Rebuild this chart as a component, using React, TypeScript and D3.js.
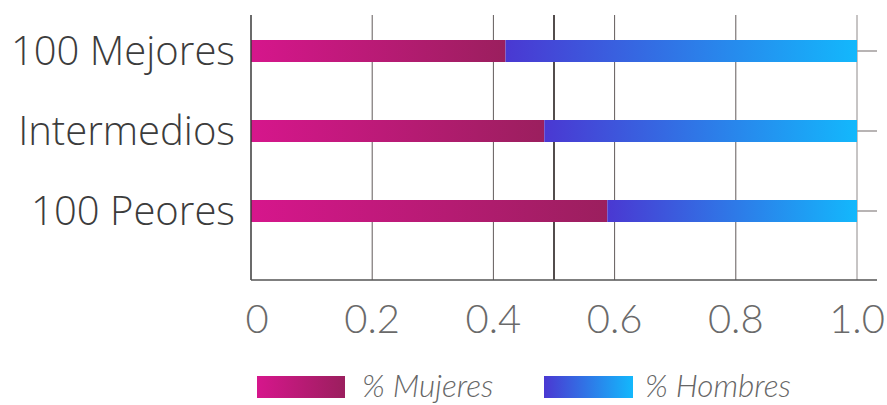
import React from "react";
import * as d3 from "d3";

const categories = ["100 Mejores", "Intermedios", "100 Peores"];
const mujeres = [0.42, 0.484, 0.588];
const hombres = [0.58, 0.516, 0.412];
const tickValues = [0, 0.2, 0.4, 0.6, 0.8, 1.0];
const tickLabels = ["0", "0.2", "0.4", "0.6", "0.8", "1.0"];
const gridValues = [0.2, 0.4, 0.5, 0.6, 0.8, 1.0];
const seriesNames = ["% Mujeres", "% Hombres"];

export default function App() {
  const W = 887, H = 405;
  const x = d3.scaleLinear().domain([0, 1]).range([251, 857]);
  const y = d3.scalePoint<string>().domain(categories).range([51, 211]);
  const barH = 22;
  const top = 15, bottom = 280;

  return (
    <svg width={W} height={H} style={{ position: "absolute", left: 0, top: 0, background: "#fff" }}>
      <defs>
        <linearGradient id="gM" x1="0" x2="1" y1="0" y2="0">
          <stop offset="0" stopColor="#d6168c" />
          <stop offset="1" stopColor="#9b1f5e" />
        </linearGradient>
        <linearGradient id="gH" x1="0" x2="1" y1="0" y2="0">
          <stop offset="0" stopColor="#4a38d2" />
          <stop offset="1" stopColor="#13b8fc" />
        </linearGradient>
      </defs>
      {gridValues.map((v) => (
        <line key={v} x1={x(v)} x2={x(v)} y1={top} y2={bottom}
          stroke={v === 0.5 ? "#524c4c" : v === 1 ? "#8f8a8a" : "#625b5b"}
          strokeWidth={v === 0.5 ? 2 : 1} />
      ))}
      {categories.map((c, i) => {
        const yc = y(c)!;
        return (
          <g key={c}>
            <rect x={x(0)} y={yc - barH / 2} width={x(mujeres[i]) - x(0)} height={barH} fill="url(#gM)" />
            <rect x={x(mujeres[i])} y={yc - barH / 2} width={x(mujeres[i] + hombres[i]) - x(mujeres[i])} height={barH} fill="url(#gH)" />
            <line x1={x(1)} x2={x(1) + 20} y1={yc} y2={yc} stroke="#a09b9b" strokeWidth={1.5} />
            <text x={235} y={yc + 14} textAnchor="end" fontFamily="'Open Sans', Roboto, sans-serif"
              fontWeight={300} fontSize={40} fill="#3c3c3c">{c}</text>
          </g>
        );
      })}
      <line x1={x(0)} x2={x(0)} y1={top} y2={bottom} stroke="#3a3a3a" strokeWidth={1.5} />
      <line x1={x(0)} x2={877} y1={bottom} y2={bottom} stroke="#555" strokeWidth={1.5} />
      {tickValues.map((v, i) => (
        <text key={v} x={i === 0 ? x(v) + 6 : x(v)} y={333} textAnchor="middle"
          fontFamily="Lato, 'Open Sans', sans-serif" fontWeight={300} fontSize={40} fill="#6a6a6a">
          {tickLabels[i]}
        </text>
      ))}
      <rect x={257} y={376} width={88} height={22} fill="url(#gM)" />
      <text x={362} y={397} fontFamily="Lato, sans-serif" fontStyle="italic" fontWeight={300} fontSize={31.5} fill="#666">{seriesNames[0]}</text>
      <rect x={544} y={376} width={89} height={22} fill="url(#gH)" />
      <text x={645} y={397} fontFamily="Lato, sans-serif" fontStyle="italic" fontWeight={300} fontSize={31.5} fill="#666">{seriesNames[1]}</text>
    </svg>
  );
}
